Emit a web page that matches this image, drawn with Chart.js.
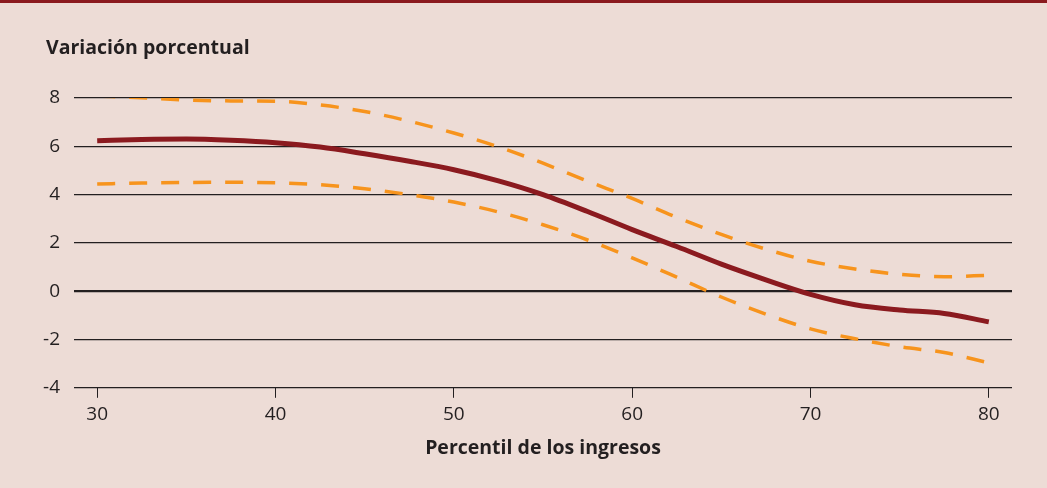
<!DOCTYPE html>
<html>
<head>
<meta charset="utf-8">
<script src="https://cdn.jsdelivr.net/npm/chart.js@4"></script>
<style>
    html, body { margin: 0; padding: 0; background: #EDDCD6; }
    #wrap { position: relative; width: 1047px; height: 488px; border-top: 3px solid #8B1A1F; box-sizing: border-box; }
    canvas { display: block; }
</style>
</head>
<body>
<div id="wrap"><canvas id="myChart" width="1047" height="485"></canvas></div>
<script>
// percentiles de ingreso
var percentiles = [30, 32.5, 35, 37.5, 40, 42.5, 45, 47.5, 50, 52.5, 55, 57.5, 60, 62.5, 65, 67.5, 70, 72.5, 75, 77.5, 80];
// estimación central
var central = [6.23, 6.28, 6.3, 6.25, 6.15, 5.97, 5.69, 5.38, 5.03, 4.57, 4.0, 3.3, 2.55, 1.85, 1.12, 0.47, -0.13, -0.56, -0.78, -0.92, -1.27];
// banda superior
var upper = [8.08, 8.01, 7.92, 7.88, 7.87, 7.71, 7.44, 7.04, 6.55, 5.98, 5.3, 4.56, 3.84, 3.06, 2.35, 1.74, 1.24, 0.92, 0.7, 0.6, 0.66];
// banda inferior
var lower = [4.44, 4.48, 4.5, 4.51, 4.49, 4.41, 4.24, 4.0, 3.69, 3.28, 2.75, 2.12, 1.38, 0.58, -0.24, -0.95, -1.56, -1.97, -2.3, -2.54, -2.97];

var xTicks = [30, 40, 50, 60, 70, 80];
var yTicks = [-4, -2, 0, 2, 4, 6, 8];

var yTitle = 'Variación porcentual';
var xTitle = 'Percentil de los ingresos';

function toPoints(values) {
    var pts = [];
    for (var i = 0; i < percentiles.length; i++) {
        pts.push({ x: percentiles[i], y: values[i] });
    }
    return pts;
}

var font = "'Open Sans', 'DejaVu Sans', sans-serif";
Chart.defaults.font.family = font;
Chart.defaults.color = '#231F20';

// titulo del eje vertical, arriba a la izquierda
var topTitle = {
    id: 'topTitle',
    afterDraw: function (chart) {
        var c = chart.ctx;
        c.save();
        c.font = 'bold 19.5px ' + font;
        c.fillStyle = '#231F20';
        c.textBaseline = 'middle';
        c.fillText(yTitle, 46, 45);
        c.restore();
    }
};

var ctx = document.getElementById('myChart');
var myChart = new Chart(ctx, {
    type: 'line',
    data: {
        datasets: [{
            data: toPoints(upper),
            borderColor: '#F7941D',
            borderWidth: 3.5,
            borderDash: [18, 14],
            pointRadius: 0,
            cubicInterpolationMode: 'monotone'
        }, {
            data: toPoints(lower),
            borderColor: '#F7941D',
            borderWidth: 3.5,
            borderDash: [18, 14],
            pointRadius: 0,
            cubicInterpolationMode: 'monotone'
        }, {
            data: toPoints(central),
            borderColor: '#8B1A1F',
            borderWidth: 5,
            pointRadius: 0,
            cubicInterpolationMode: 'monotone'
        }]
    },
    options: {
        responsive: false,
        maintainAspectRatio: false,
        animation: false,
        layout: { padding: { top: 95, right: 35, bottom: 28, left: 0 } },
        plugins: {
            legend: { display: false },
            tooltip: { enabled: false }
        },
        scales: {
            x: {
                type: 'linear',
                min: 28.7,
                max: 81.3,
                afterBuildTicks: function (scale) {
                    scale.ticks = xTicks.map(function (v) { return { value: v }; });
                },
                grid: { drawOnChartArea: false, drawTicks: true, tickLength: 10, color: '#231F20' },
                border: { display: false },
                ticks: { font: { size: 19 }, padding: 5, maxRotation: 0 },
                title: { display: true, text: xTitle, font: { size: 19.5, weight: 'bold' }, padding: { top: 6, bottom: 0 } }
            },
            y: {
                min: -4,
                max: 8,
                afterBuildTicks: function (scale) {
                    scale.ticks = yTicks.map(function (v) { return { value: v }; });
                },
                afterFit: function (scale) { scale.width = 74; },
                grid: {
                    drawTicks: false,
                    color: '#231F20',
                    lineWidth: function (c) { return c.tick && c.tick.value === 0 ? 2.2 : 1.2; }
                },
                border: { display: false },
                ticks: { font: { size: 19 }, padding: 14 }
            }
        }
    },
    plugins: [topTitle]
});
</script>
</body>
</html>
